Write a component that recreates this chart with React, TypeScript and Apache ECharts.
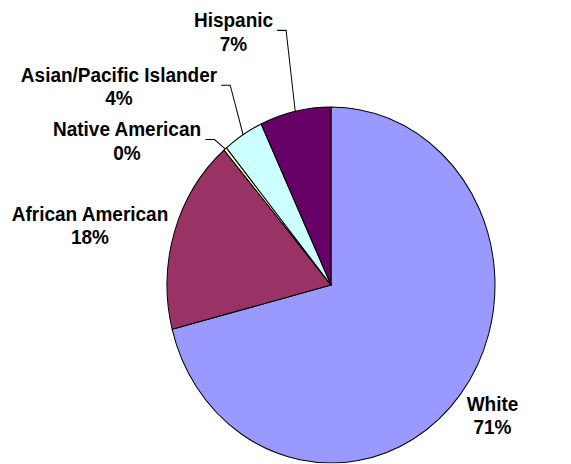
import React, { useEffect, useRef } from "react";
import * as echarts from "echarts";

const categories = ["White", "African American", "Native American", "Asian/Pacific Islander", "Hispanic"];
const values = [71, 17.7, 0.3, 4, 7];
const colors = ["#9999FF", "#993366", "#FFFFCC", "#CCFFFF", "#660066"];

const W = 571;
const H = 464;
const STRETCH = 1.0854; // the reference pie is slightly taller than wide
const BASE_H = H / STRETCH;

// label anchor (centre) positions in unstretched chart coordinates
const labelPos: [number, number][] = [
  [492.5, 382.5],
  [90, 207.5],
  [127, 129.5],
  [119, 79.5],
  [233.5, 29],
];
const hasLine = [false, false, true, true, true];

export default function App() {
  const ref = useRef<HTMLDivElement>(null);
  useEffect(() => {
    if (!ref.current) return;
    const chart = echarts.init(ref.current, undefined, { renderer: "svg" });
    chart.setOption({
      animation: false,
      backgroundColor: "#ffffff",
      series: [
        {
          type: "pie",
          center: [331, 262.6],
          radius: 164,
          startAngle: 90,
          clockwise: true,
          avoidLabelOverlap: false,
          data: categories.map((name, i) => ({
            name,
            value: values[i],
            itemStyle: { color: colors[i] },
            labelLine: { show: hasLine[i] },
          })),
          itemStyle: { borderColor: "#000000", borderWidth: 1 },
          label: {
            show: true,
            position: "outside",
            formatter: (p: any) => `${p.name}\n${Math.round(p.percent)}%`,
            color: "#000000",
            fontFamily: "Liberation Sans, Arial, sans-serif",
            fontWeight: "bold",
            fontSize: 19,
            lineHeight: 22,
            align: "center",
          },
          labelLine: {
            show: true,
            lineStyle: { color: "#000000", width: 1 },
          },
          labelLayout: (p: any) => {
            const i = p.dataIndex;
            const [x, y] = labelPos[i];
            const res: any = { x, y, align: "center", verticalAlign: "middle" };
            if (hasLine[i] && p.labelLinePoints) {
              const edge = p.labelLinePoints[0];
              const right = x + p.labelRect.width / 2;
              const ly = y - 1;
              res.labelLinePoints = [edge, [right + 13, ly], [right + 4, ly]];
            }
            return res;
          },
        },
      ],
    });
    return () => chart.dispose();
  }, []);
  return (
    <div
      style={{
        position: "fixed",
        left: 0,
        top: 0,
        width: W,
        height: H,
        overflow: "hidden",
        background: "#ffffff",
      }}
    >
      <div
        ref={ref}
        style={{
          width: W,
          height: BASE_H,
          transform: `scaleY(${STRETCH})`,
          transformOrigin: "0 0",
        }}
      />
    </div>
  );
}
